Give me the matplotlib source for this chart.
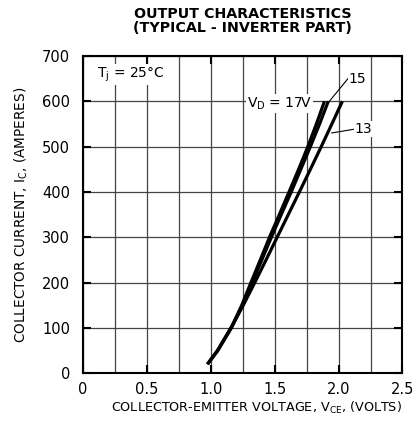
import matplotlib
matplotlib.use("Agg")
import matplotlib.pyplot as plt
from matplotlib.ticker import MultipleLocator

plt.rcParams['font.family'] = ['DejaVu Sans']

### curve data
ic = [20, 50, 100, 150, 200, 250, 300, 350, 400, 450, 500, 550, 600]
vce_17 = [0.975, 1.055, 1.16, 1.243, 1.315, 1.388, 1.46, 1.537, 1.613, 1.688, 1.76, 1.827, 1.89]
vce_15 = [0.975, 1.055, 1.162, 1.25, 1.325, 1.40, 1.475, 1.552, 1.63, 1.705, 1.78, 1.852, 1.92]
vce_13 = [0.975, 1.053, 1.158, 1.255, 1.345, 1.433, 1.52, 1.607, 1.694, 1.78, 1.865, 1.948, 2.03]

xticks = [0, 0.5, 1.0, 1.5, 2.0, 2.5]
xtick_labels = ["0", "0.5", "1.0", "1.5", "2.0", "2.5"]
yticks = [0, 100, 200, 300, 400, 500, 600, 700]

fig = plt.figure(figsize=(4.16, 4.30), dpi=100)
ax = fig.add_axes([0.199, 0.132, 0.7685, 0.738])

for v in [vce_17, vce_15, vce_13]:
    ax.plot(v, ic, color="black", lw=2.3, solid_capstyle="butt", zorder=3)

ax.set_xlim(0, 2.5)
ax.set_ylim(0, 700)
ax.set_xticks(xticks)
ax.set_xticklabels(xtick_labels)
ax.set_yticks(yticks)
ax.xaxis.set_minor_locator(MultipleLocator(0.25))
ax.grid(True, which="both", axis="x", color="#444444", lw=0.9)
ax.grid(True, which="major", axis="y", color="#444444", lw=0.9)
ax.tick_params(which="major", direction="in", length=6, width=1.5,
               top=True, right=True, labelsize=10.5)
ax.tick_params(axis="y", pad=9)
ax.tick_params(axis="x", pad=6)
ax.tick_params(which="minor", length=0)
for s in ax.spines.values():
    s.set_linewidth(1.5)

ax.set_xlabel("COLLECTOR-EMITTER VOLTAGE, V$_{\\mathregular{CE}}$, (VOLTS)", fontsize=9.2)
ax.xaxis.set_label_coords(0.543, -0.085)
ax.set_ylabel("COLLECTOR CURRENT, I$_{\\mathregular{C}}$, (AMPERES)", fontsize=9.8, labelpad=9)
ax.set_title("OUTPUT CHARACTERISTICS\n(TYPICAL - INVERTER PART)",
             fontsize=10.3, fontweight="bold", linespacing=1.0, pad=17)

ax.text(0.11, 658, "T$_{\\mathregular{j}}$ = 25°C", fontsize=10, ha="left", va="center",
        bbox=dict(facecolor="white", edgecolor="none", pad=1))
ax.text(1.79, 595, "V$_{\\mathregular{D}}$ = 17V", fontsize=10, ha="right", va="center",
        zorder=4, bbox=dict(facecolor="white", edgecolor="none", pad=1))

# leader lines for the 15 and 13 labels
ax.plot([1.92, 2.077], [597, 651], color="black", lw=0.8, zorder=4)
ax.text(2.08, 649, "15", fontsize=10, ha="left", va="center", zorder=4,
        bbox=dict(facecolor="white", edgecolor="none", pad=0.5))
ax.plot([1.947, 2.116], [530, 538], color="black", lw=0.8, zorder=4)
ax.text(2.125, 539, "13", fontsize=10, ha="left", va="center", zorder=4,
        bbox=dict(facecolor="white", edgecolor="none", pad=0.5))

fig.savefig("out.png", dpi=100)
